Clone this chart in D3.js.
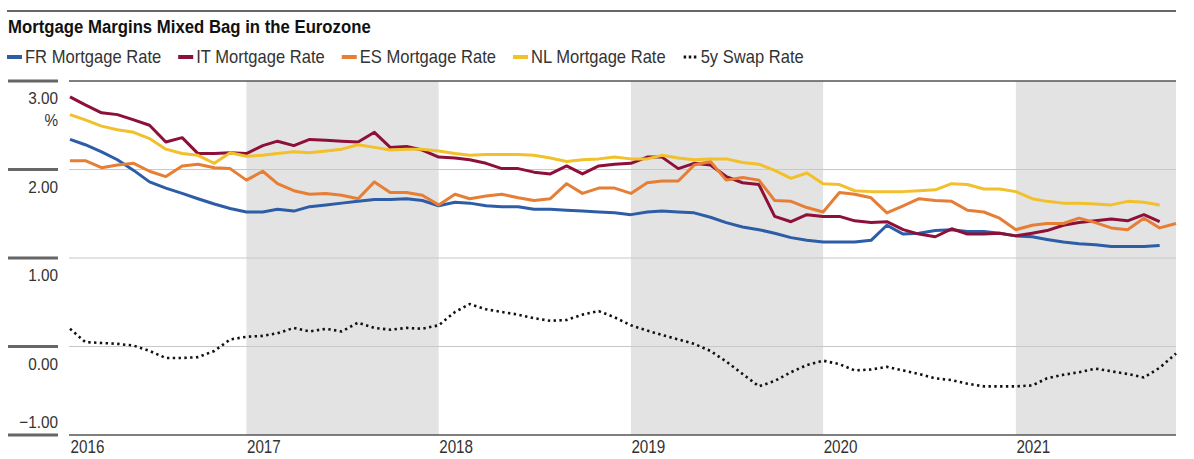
<!DOCTYPE html>
<html>
<head>
<meta charset="utf-8">
<script src="https://cdn.jsdelivr.net/npm/d3@7"></script>
<style>
  body { margin: 0; background: #fff; }
  svg text { font-family: "Liberation Sans", Arial, sans-serif; fill: #333; }
</style>
</head>
<body>
<div id="chart"></div>
<script>
// monthly observations, Feb 2016 .. Nov 2021
const dates = d3.timeMonth.range(new Date(2016, 1, 1), new Date(2021, 11, 1));

const frRate = [
  2.34, 2.28, 2.20, 2.11, 1.99, 1.86, 1.79, 1.73, 1.67, 1.61, 1.56, 1.52, 1.52, 1.55,
  1.53, 1.58, 1.60, 1.62, 1.64, 1.66, 1.66, 1.67, 1.65, 1.59, 1.63, 1.62, 1.59, 1.58,
  1.58, 1.55, 1.55, 1.54, 1.53, 1.52, 1.51, 1.49, 1.52, 1.53, 1.52, 1.51, 1.46, 1.40,
  1.35, 1.32, 1.28, 1.23, 1.20, 1.18, 1.18, 1.18, 1.20, 1.37, 1.27, 1.28, 1.31, 1.32,
  1.30, 1.30, 1.28, 1.25, 1.24, 1.21, 1.18, 1.16, 1.15, 1.13, 1.13, 1.13, 1.14
];
const itRate = [
  2.82, 2.73, 2.64, 2.62, 2.56, 2.50, 2.31, 2.36, 2.18, 2.18, 2.19, 2.18, 2.27, 2.32,
  2.27, 2.34, 2.33, 2.32, 2.31, 2.42, 2.25, 2.26, 2.22, 2.14, 2.13, 2.11, 2.07, 2.01,
  2.01, 1.97, 1.95, 2.04, 1.95, 2.04, 2.06, 2.07, 2.14, 2.14, 2.01, 2.07, 2.05, 1.92,
  1.85, 1.83, 1.47, 1.41, 1.49, 1.47, 1.47, 1.42, 1.40, 1.41, 1.32, 1.27, 1.24, 1.33,
  1.27, 1.27, 1.28, 1.25, 1.28, 1.31, 1.37, 1.40, 1.42, 1.44, 1.42, 1.49, 1.41
];
const esRate = [
  2.10, 2.10, 2.02, 2.05, 2.07, 1.98, 1.92, 2.04, 2.06, 2.02, 2.01, 1.88, 1.98, 1.84,
  1.76, 1.72, 1.73, 1.71, 1.67, 1.86, 1.74, 1.74, 1.71, 1.60, 1.72, 1.67, 1.70, 1.72,
  1.68, 1.65, 1.67, 1.84, 1.73, 1.79, 1.79, 1.73, 1.85, 1.87, 1.87, 2.05, 2.09, 1.88,
  1.91, 1.88, 1.65, 1.64, 1.57, 1.52, 1.74, 1.72, 1.68, 1.51, 1.59, 1.67, 1.65, 1.64,
  1.54, 1.52, 1.45, 1.32, 1.37, 1.39, 1.39, 1.45, 1.40, 1.34, 1.32, 1.45, 1.34, 1.39
];
const nlRate = [
  2.62, 2.56, 2.49, 2.45, 2.42, 2.35, 2.23, 2.18, 2.16, 2.07, 2.19, 2.15, 2.16, 2.18,
  2.20, 2.19, 2.21, 2.23, 2.28, 2.25, 2.22, 2.23, 2.23, 2.21, 2.18, 2.16, 2.17, 2.17,
  2.17, 2.16, 2.13, 2.09, 2.11, 2.12, 2.14, 2.12, 2.12, 2.16, 2.13, 2.11, 2.12, 2.12,
  2.08, 2.06, 1.99, 1.90, 1.96, 1.84, 1.83, 1.76, 1.75, 1.75, 1.75, 1.76, 1.77, 1.84,
  1.83, 1.78, 1.78, 1.75, 1.67, 1.64, 1.62, 1.62, 1.61, 1.60, 1.64, 1.63, 1.60
];
const swapRate = [
  0.20, 0.05, 0.04, 0.03, 0.01, -0.05, -0.13, -0.13, -0.12, -0.05, 0.08, 0.11, 0.12, 0.15,
  0.21, 0.17, 0.20, 0.17, 0.27, 0.21, 0.19, 0.21, 0.20, 0.24, 0.39, 0.48, 0.42, 0.39,
  0.36, 0.32, 0.29, 0.30, 0.36, 0.40, 0.33, 0.24, 0.18, 0.13, 0.08, 0.03, -0.05, -0.17,
  -0.31, -0.45, -0.39, -0.29, -0.21, -0.16, -0.20, -0.27, -0.26, -0.23, -0.27, -0.31, -0.36, -0.38,
  -0.42, -0.45, -0.45, -0.45, -0.44, -0.36, -0.32, -0.29, -0.25, -0.28, -0.31, -0.35, -0.24, -0.08
];

const seriesNames = ['FR Mortgage Rate', 'IT Mortgage Rate', 'ES Mortgage Rate', 'NL Mortgage Rate', '5y Swap Rate'];
const yTicks = [3, 2, 1, 0, -1];
const shadedYears = [2017, 2019, 2021];

const width = 1194, height = 459;
const plot = {left: 70, right: 1176, top: 81, bottom: 435};

const series = [
  {name: seriesNames[0], values: frRate, color: '#2c5da6'},
  {name: seriesNames[1], values: itRate, color: '#8c1038'},
  {name: seriesNames[2], values: esRate, color: '#e67e36'},
  {name: seriesNames[3], values: nlRate, color: '#f1c02a'},
  {name: seriesNames[4], values: swapRate, color: '#111', dotted: true}
];

// squeeze text horizontally (condensed look), returns new width
function narrow(sel, k) {
  let w = 0;
  sel.each(function() {
    const len = this.getComputedTextLength() * k;
    d3.select(this).attr('textLength', len).attr('lengthAdjust', 'spacingAndGlyphs');
    w = len;
  });
  return w;
}

const svg = d3.select('#chart').append('svg')
  .attr('width', width)
  .attr('height', height);

const x = d3.scaleTime()
  .domain([dates[0], dates[dates.length - 1]])
  .range([plot.left, plot.right]);

const y = d3.scaleLinear()
  .domain([-1, 3])
  .range([plot.bottom, plot.top]);

// top rule + title
svg.append('line')
  .attr('x1', 7).attr('x2', plot.right)
  .attr('y1', 11).attr('y2', 11)
  .attr('stroke', '#333').attr('stroke-width', 1.5);

narrow(svg.append('text')
  .attr('x', 8).attr('y', 33)
  .style('font-size', '18px')
  .style('font-weight', 'bold')
  .style('fill', '#111')
  .text('Mortgage Margins Mixed Bag in the Eurozone'), 0.93);

// legend
let lx = 7;
series.forEach(s => {
  const g = svg.append('g').attr('transform', 'translate(' + lx + ',0)');
  if (s.dotted) {
    g.append('line')
      .attr('x1', 1).attr('x2', 15).attr('y1', 57).attr('y2', 57)
      .attr('stroke', s.color).attr('stroke-width', 3)
      .attr('stroke-dasharray', '2.5,2.6');
  } else {
    g.append('rect')
      .attr('x', 0).attr('y', 55).attr('width', 15).attr('height', 4)
      .attr('fill', s.color);
  }
  const tw = narrow(g.append('text')
    .attr('x', 18).attr('y', 63)
    .style('font-size', '18.5px')
    .text(s.name), 0.895);
  lx += 18 + tw + 17;
});

// shaded year bands
svg.append('g').selectAll('rect')
  .data(shadedYears)
  .enter().append('rect')
  .attr('x', d => x(new Date(d, 0, 1)))
  .attr('width', d => Math.min(plot.right, x(new Date(d + 1, 0, 1))) - x(new Date(d, 0, 1)))
  .attr('y', plot.top)
  .attr('height', plot.bottom - plot.top)
  .attr('fill', '#e3e3e3');

// gridlines
svg.append('g').selectAll('line')
  .data(yTicks)
  .enter().append('line')
  .attr('x1', plot.left - 1).attr('x2', plot.right)
  .attr('y1', d => y(d)).attr('y2', d => y(d))
  .attr('stroke', d => (d === 3 || d === -1) ? '#555' : '#c8c8c8')
  .attr('stroke-width', d => (d === 3 || d === -1) ? 1.5 : 1);

// y axis: thick ticks on the left with labels
const yAxis = svg.append('g').attr('class', 'axis axis--y');
yAxis.selectAll('line')
  .data(yTicks)
  .enter().append('line')
  .attr('x1', 8).attr('x2', 58)
  .attr('y1', d => y(d)).attr('y2', d => y(d))
  .attr('stroke', '#666').attr('stroke-width', 3);
narrow(yAxis.selectAll('text')
  .data(yTicks)
  .enter().append('text')
  .attr('x', 58)
  .attr('y', d => d === -1 ? y(d) - 7 : y(d) + 23)
  .attr('text-anchor', 'end')
  .style('font-size', '17px')
  .text(d => d3.format('.2f')(d).replace('-', '\u2212')), 0.9);
narrow(svg.append('text')
  .attr('x', 58).attr('y', 126)
  .attr('text-anchor', 'end')
  .style('font-size', '17px')
  .text('%'), 0.9);

// x axis
const xAxis = svg.append('g')
  .attr('class', 'axis axis--x')
  .attr('transform', 'translate(0,' + plot.bottom + ')')
  .call(d3.axisBottom(x)
    .tickValues([dates[0]].concat(d3.range(2017, 2022).map(yr => new Date(yr, 0, 1))))
    .tickFormat(d3.timeFormat('%Y'))
    .tickSize(0));
xAxis.select('.domain').remove();
xAxis.attr('font-family', null).attr('font-size', null);
narrow(xAxis.selectAll('text')
  .attr('text-anchor', 'start')
  .attr('dy', null)
  .attr('y', 17.5)
  .attr('x', 0)
  .style('font-size', '17.5px')
  .attr('fill', '#333'), 0.87);

// lines
const line = d3.line()
  .x((d, i) => x(dates[i]))
  .y(d => y(d));

svg.append('g').selectAll('path')
  .data(series)
  .enter().append('path')
  .attr('d', d => line(d.values))
  .attr('fill', 'none')
  .attr('stroke', d => d.color)
  .attr('stroke-width', d => d.dotted ? 2.6 : 3)
  .attr('stroke-linejoin', 'round')
  .attr('stroke-dasharray', d => d.dotted ? '2.4,3.4' : null);
</script>
</body>
</html>
